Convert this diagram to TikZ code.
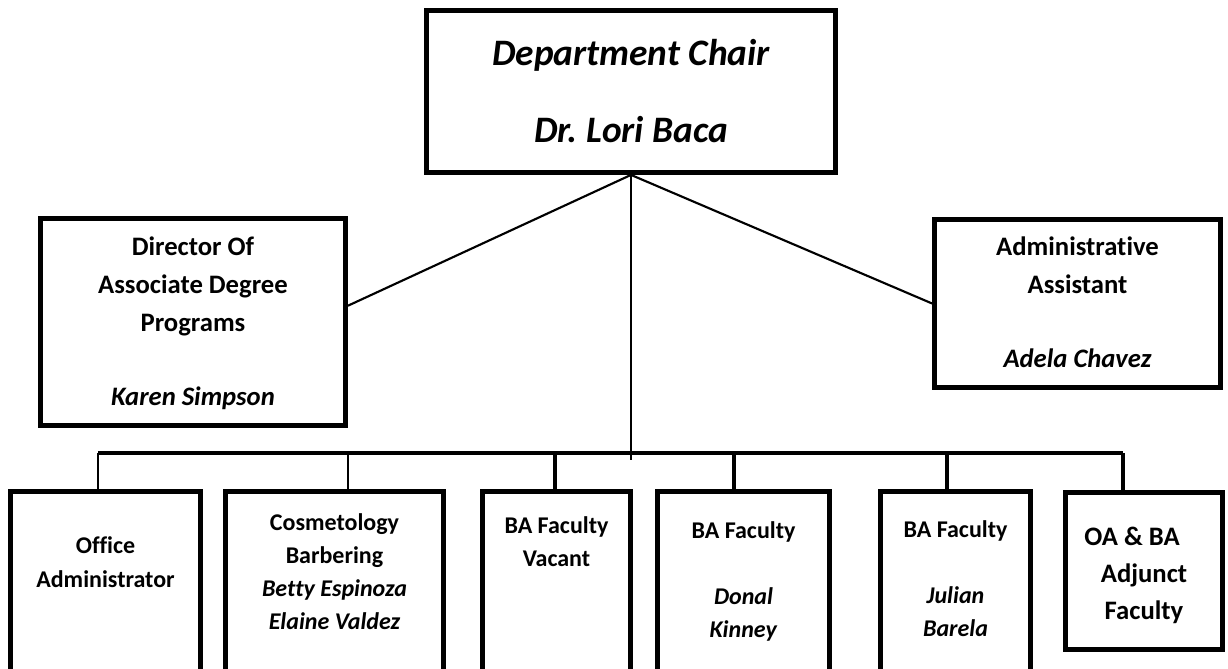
\documentclass[tikz,border=0pt]{standalone}
\usepackage{fontspec}
\setmainfont{Carlito}[Ligatures=NoCommon]
\tikzset{
  box/.style={draw, line width=4pt, inner sep=0pt},
  lowbox/.style={box, minimum height=184.1pt},
  txt/.style={align=center, inner sep=0pt, anchor=north},
  link/.style={line width=1.6pt},
  thinlink/.style={line width=1pt},
  buslink/.style={line width=2.3pt}
}
\begin{document}
\begin{tikzpicture}[x=0.75pt, y=-0.75pt]
  \useasboundingbox (0,0) rectangle (1228,668);
  % boxes
  \node[box, minimum width=306.4pt, minimum height=121.1pt] (chair) at (631,91.5) {};
  \node[box, minimum width=228.4pt, minimum height=154.9pt] (director) at (193,322) {};
  \node[box, minimum width=214.1pt, minimum height=125.6pt] (assistant) at (1077.5,303.5) {};
  \node[lowbox, minimum width=142.1pt] (office) at (105.5,614.5) {};
  \node[lowbox, minimum width=163.1pt] (cosmo) at (334.5,614.5) {};
  \node[lowbox, minimum width=110.6pt] (vacant) at (556.5,614.5) {};
  \node[lowbox, minimum width=128.6pt] (donal) at (743.5,614.5) {};
  \node[lowbox, minimum width=112.1pt] (julian) at (955.5,614.5) {};
  \node[box, minimum width=117.4pt, minimum height=117.4pt] (oa) at (1144,571) {};
  % texts
  \node[txt, font=\fontsize{28}{57.75}\selectfont\bfseries\itshape] (chair-t) at (631,39)
    {Department Chair\\Dr.\ Lori Baca};
  \node[txt, font=\fontsize{20}{28.5}\selectfont\bfseries] (director-t) at (193,237)
    {Director Of\\Associate Degree\\Programs\\[27pt]\textit{Karen Simpson}};
  \node[txt, font=\fontsize{20}{28.5}\selectfont\bfseries] (assistant-t) at (1077.5,237)
    {Administrative\\Assistant\\[27pt]\textit{Adela Chavez}};
  \node[txt, font=\fontsize{18}{25.5}\selectfont\bfseries] (office-t) at (105.5,536)
    {Office\\Administrator};
  \node[txt, font=\fontsize{18}{24.75}\selectfont\bfseries] (cosmo-t) at (334.5,513)
    {Cosmetology\\Barbering\\\textit{Betty Espinoza}\\\textit{Elaine Valdez}};
  \node[txt, font=\fontsize{18}{24.75}\selectfont\bfseries] (vacant-t) at (556.5,516)
    {BA Faculty\\Vacant};
  \node[txt, font=\fontsize{18}{24.75}\selectfont\bfseries] (donal-t) at (743.5,521)
    {BA Faculty\\[24.75pt]\textit{Donal}\\\textit{Kinney}};
  \node[txt, font=\fontsize{18}{24.75}\selectfont\bfseries] (julian-t) at (955.5,520)
    {BA Faculty\\[24.75pt]\textit{Julian}\\\textit{Barela}};
  \node[txt, font=\fontsize{20}{27.75}\selectfont\bfseries] (oa-t) at (1144,527)
    {OA \& BA\hspace*{18pt}\\Adjunct\\Faculty};
  % connectors
  \coordinate (trunk) at (631,460);
  \coordinate (bus-l) at (98,453);
  \coordinate (bus-r) at (1123,453);
  \begin{scope}[link]
    \draw (chair.south) to (director.6);
    \draw (chair.south) to (assistant.west);
    \draw (chair.south) to (trunk);
  \end{scope}
  \draw[buslink] (bus-l) -- (bus-r);
  \foreach \n/\x in {office/98, cosmo/348} {
    \coordinate (d-\n) at (\x,453);
    \draw[thinlink] (d-\n) -- (d-\n |- \n.north);
  }
  \foreach \n/\x in {vacant/555, donal/734, julian/947, oa/1123} {
    \coordinate (d-\n) at (\x,453);
    \draw[buslink] (d-\n) -- (d-\n |- \n.north);
  }
\end{tikzpicture}
\end{document}
